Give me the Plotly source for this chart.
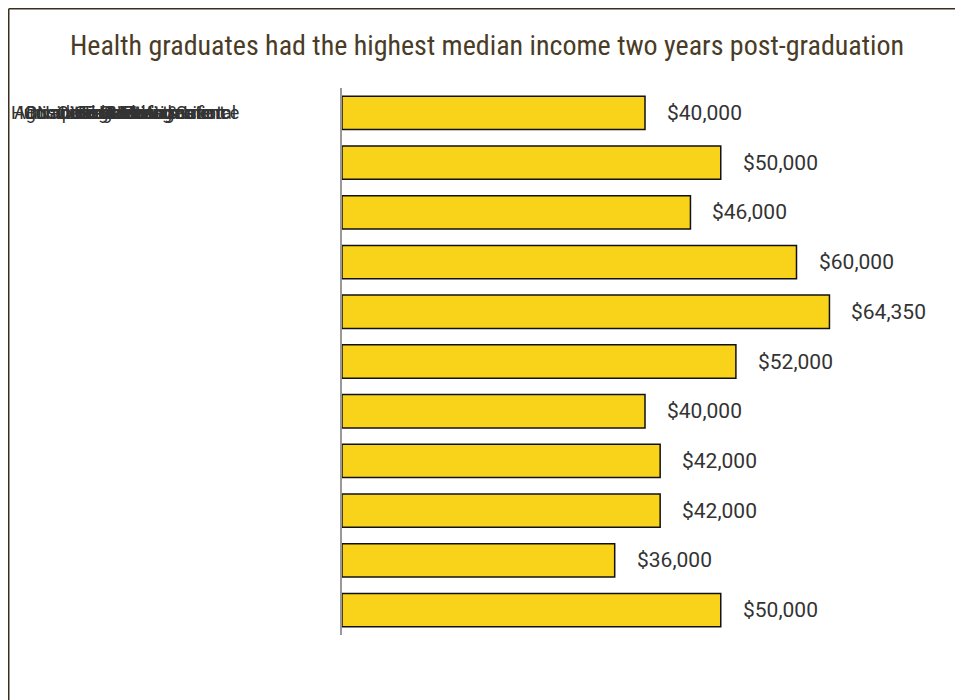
import plotly.graph_objects as go

categories = ["Agriculture & Environmental", "Business & Management",
              "Computing & Information", "Education", "Health", "Engineering",
              "Humanities & Social Science", "Law", "Creative Arts",
              "Communications", "Natural Science & Life"]
incomes = [40000, 50000, 46000, 60000, 64350, 52000, 40000, 42000, 42000, 36000, 50000]
income_labels = ["$" + format(v, ",") for v in incomes]

TITLE_FONT = "Roboto Condensed, Liberation Sans Narrow, Roboto, sans-serif"
FONT = "Roboto, sans-serif"

# figure pixels (page has an 8px body margin)
W, H = 963, 700
L, T = 334, 80
pw, ph = 601, 547
R = W - L - pw
B = H - T - ph

fig = go.Figure()
fig.add_trace(go.Bar(
    x=incomes, y=categories, orientation="h",
    marker=dict(color="#F9D21A", line=dict(color="#111111", width=1.5)),
    hoverinfo="x+y",
))

annotations = []
for c, v, t in zip(categories, incomes, income_labels):
    annotations.append(dict(x=v, y=c, xref="x", yref="y", text=t, showarrow=False,
                            xanchor="left", xshift=20,
                            font=dict(family=FONT, size=21, color="#333333")))
# category labels (drawn overlapping, as in the reference)
for c in categories:
    annotations.append(dict(x=(117 - L) / pw, y=categories[0], xref="paper", yref="y",
                            text=c, showarrow=False, xanchor="center",
                            font=dict(family=FONT, size=18, color="#333333")))

px = lambda p: (p - L) / pw
py = lambda p: (H - B - p) / ph

fig.update_layout(
    width=W, height=H,
    margin=dict(l=L, r=R, t=T, b=B),
    paper_bgcolor="white", plot_bgcolor="white",
    title=dict(text="Health graduates had the highest median income two years post-graduation",
               x=479 / W, xanchor="center", y=1 - 37 / H, yanchor="middle",
               font=dict(family=TITLE_FONT, size=28, color="#4a3c26")),
    bargap=0.33,
    showlegend=False,
    xaxis=dict(range=[0, pw / 0.007575], showgrid=False, zeroline=False,
               showticklabels=False, showline=False, fixedrange=True),
    yaxis=dict(range=[10.5, -0.5], showgrid=False, showticklabels=False,
               showline=True, linecolor="#999999", linewidth=2, ticks=""),
    annotations=annotations,
    shapes=[
        dict(type="line", xref="paper", yref="paper",
             x0=px(0.75), x1=px(0.75), y0=py(0.75), y1=py(H),
             line=dict(color="#3a2e1e", width=1.5)),
        dict(type="line", xref="paper", yref="paper",
             x0=px(0.75), x1=px(W), y0=py(0.75), y1=py(0.75),
             line=dict(color="#3a2e1e", width=1.5)),
    ],
)

fig.write_html("out.html")
